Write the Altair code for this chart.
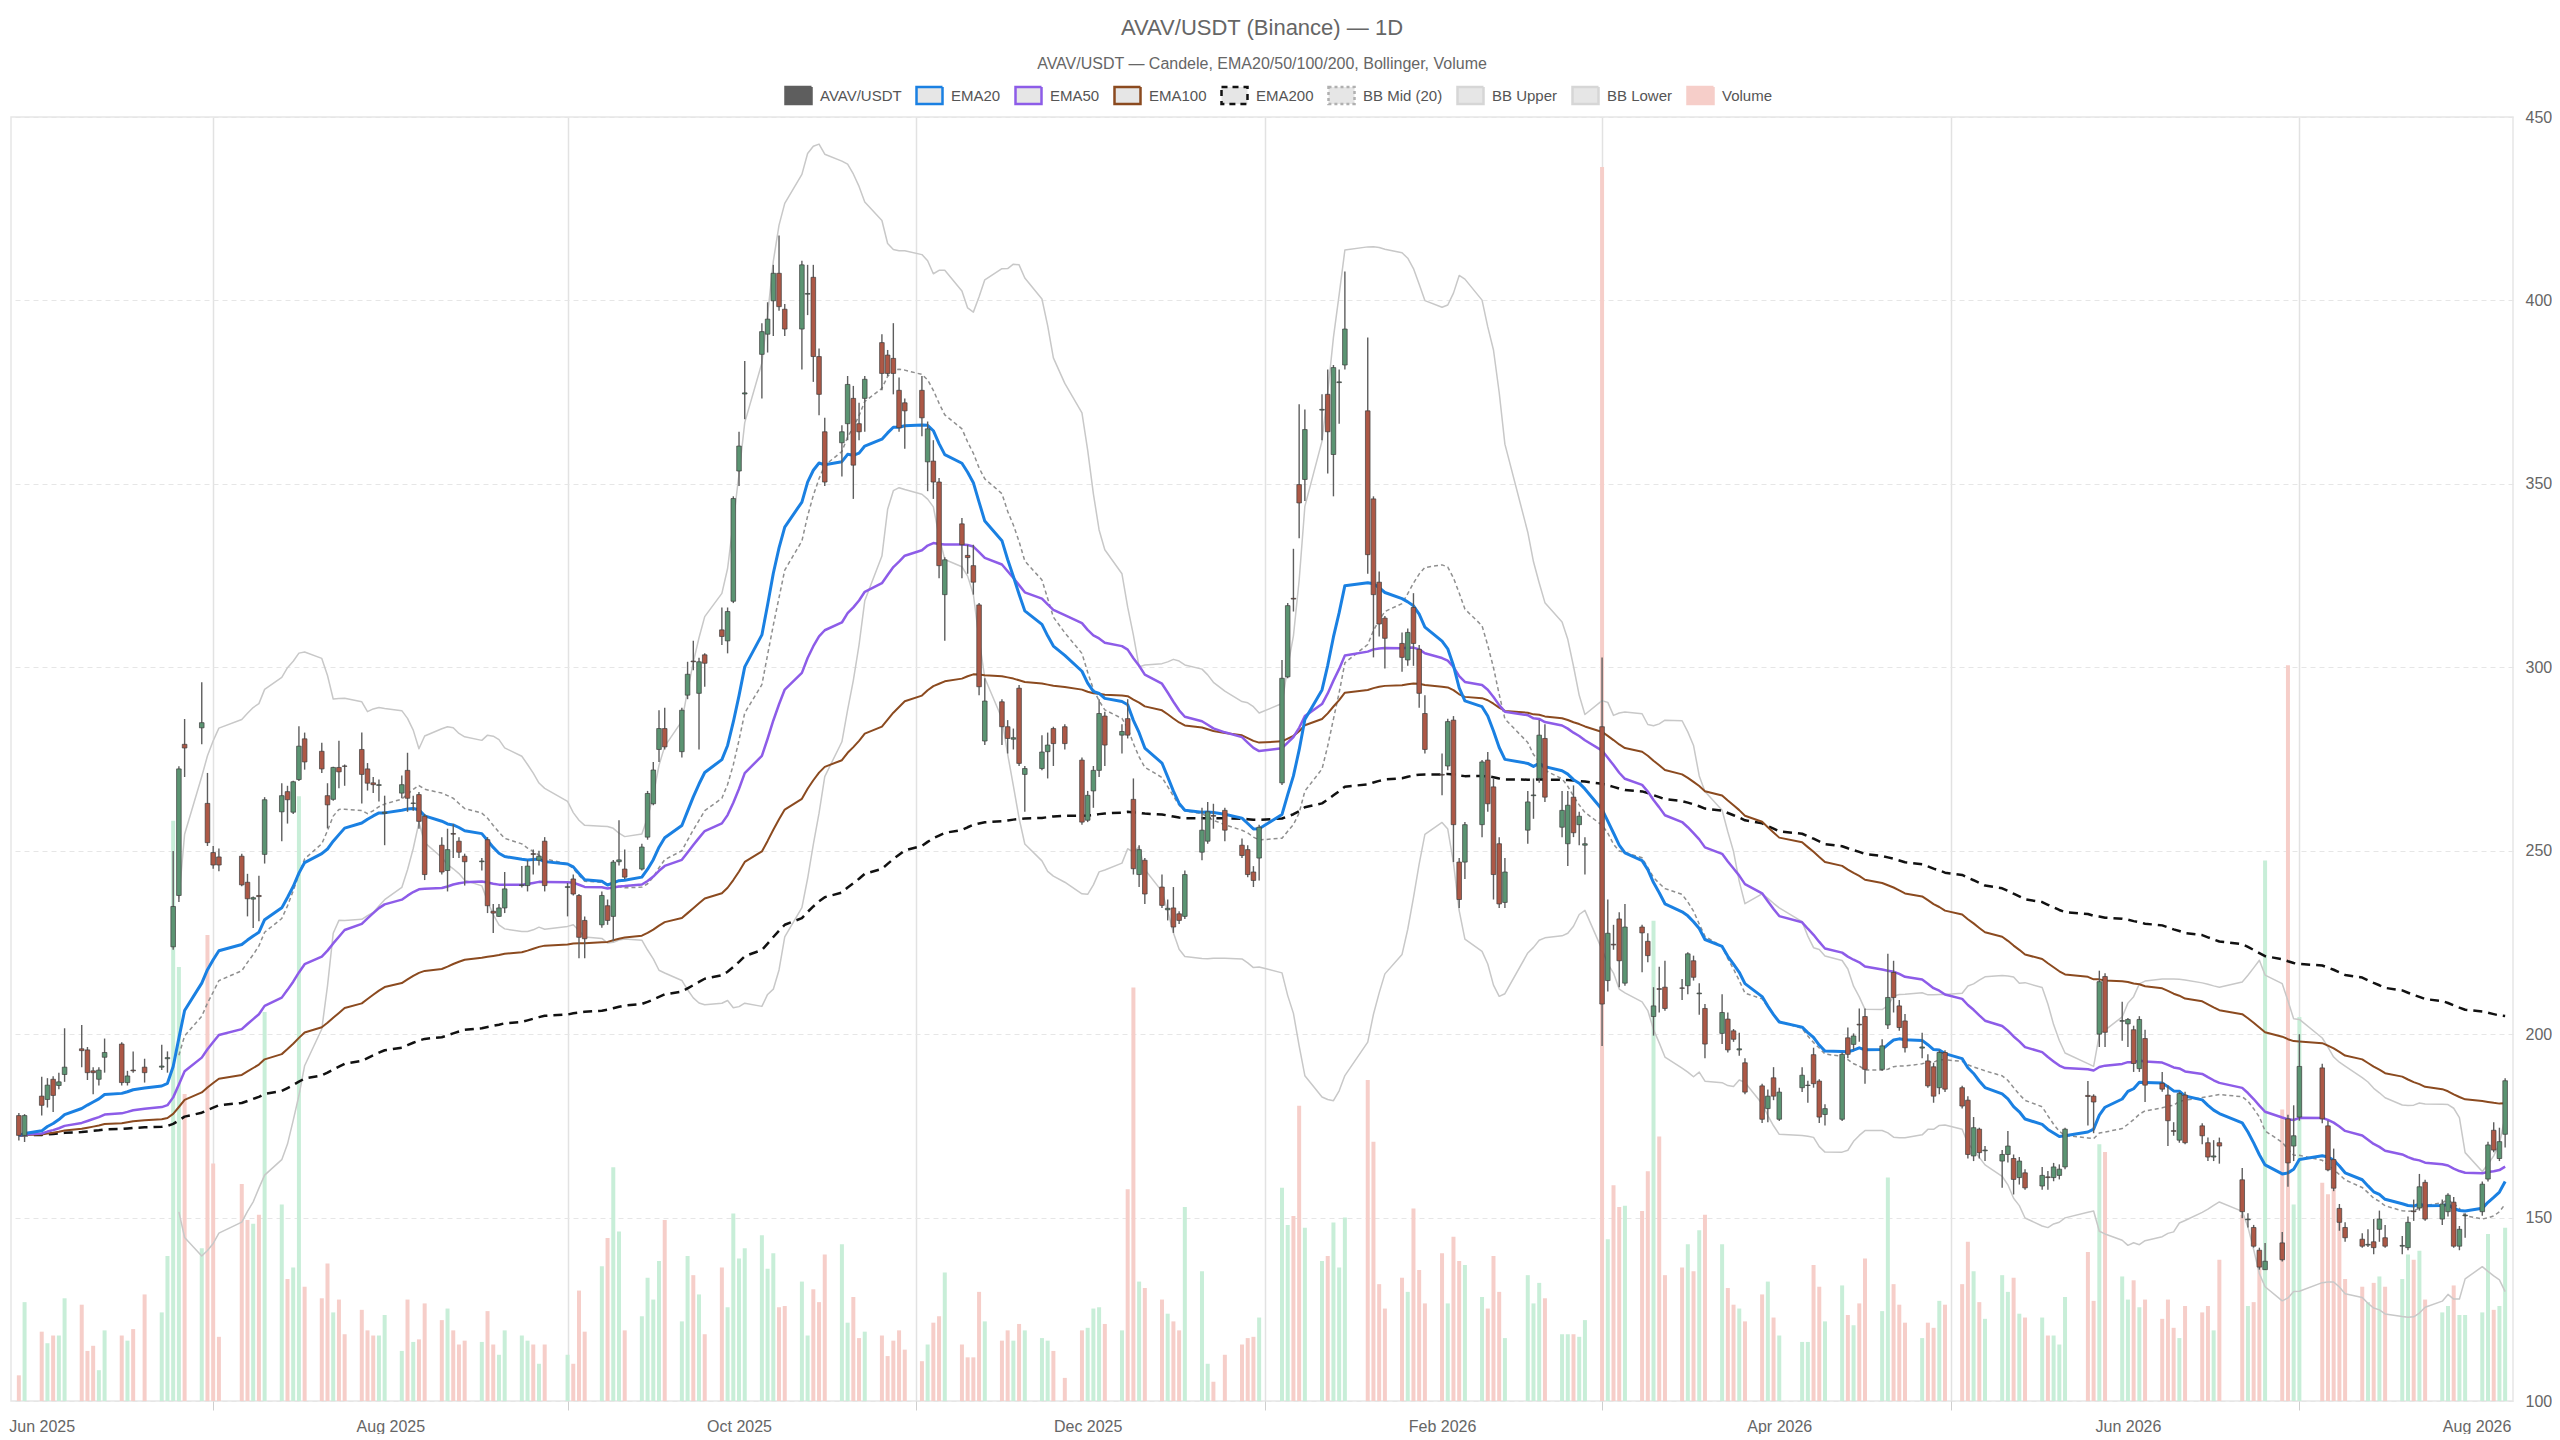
import altair as alt
import pandas as pd

START = "2025-05-28"

DAY = [
    0, 1, 4, 5, 6, 7, 8, 11, 12, 13,
    14, 15, 18, 19, 20, 22, 25, 26, 27, 28,
    29, 32, 33, 34, 35, 39, 40, 41, 42, 43,
    46, 47, 48, 49, 50, 53, 54, 55, 56, 57,
    60, 61, 62, 63, 64, 67, 68, 69, 70, 71,
    74, 75, 76, 77, 78, 81, 82, 83, 84, 85,
    88, 89, 90, 91, 92, 96, 97, 98, 99, 102,
    103, 104, 105, 106, 109, 110, 111, 112, 113, 116,
    117, 118, 119, 120, 123, 124, 125, 126, 127, 130,
    131, 132, 133, 134, 137, 138, 139, 140, 141, 144,
    145, 146, 147, 148, 151, 152, 153, 154, 155, 158,
    159, 160, 161, 162, 165, 166, 167, 168, 169, 172,
    173, 174, 175, 176, 179, 180, 181, 183, 186, 187,
    188, 189, 190, 193, 194, 195, 196, 197, 200, 201,
    202, 203, 204, 207, 208, 209, 211, 214, 215, 216,
    217, 221, 222, 223, 224, 225, 228, 229, 230, 231,
    232, 236, 237, 238, 239, 242, 243, 244, 245, 246,
    249, 250, 251, 252, 253, 256, 257, 258, 259, 260,
    264, 265, 266, 267, 270, 271, 272, 273, 274, 277,
    278, 279, 280, 281, 284, 285, 286, 287, 288, 291,
    292, 293, 294, 295, 298, 299, 300, 301, 302, 305,
    306, 307, 308, 312, 313, 314, 315, 316, 319, 320,
    321, 322, 323, 326, 327, 328, 329, 330, 333, 334,
    335, 336, 337, 340, 341, 342, 343, 344, 347, 348,
    349, 350, 351, 354, 355, 356, 357, 358, 362, 363,
    364, 365, 368, 369, 370, 371, 372, 375, 376, 377,
    378, 379, 382, 383, 384, 385, 389, 390, 391, 392,
    393, 396, 397, 398, 399, 403, 404, 405, 406, 407,
    410, 411, 412, 413, 414, 417, 418, 419, 420, 421,
    424, 425, 426, 427, 428, 431, 432, 433, 434, 435,
]

OPEN = [
    177.8, 172.4, 183.1, 182.2, 187.7, 186.0, 189.0, 196.0, 195.7, 190.0,
    187.7, 193.7, 197.3, 186.8, 190.2, 191.0, 191.0, 193.3, 223.8, 237.8,
    279.0, 283.5, 262.9, 249.5, 248.3, 248.5, 241.4, 236.8, 237.8, 249.0,
    260.6, 266.1, 260.5, 269.4, 280.5, 277.1, 265.0, 264.0, 272.7, 273.1,
    277.6, 272.3, 268.5, 267.8, 260.2, 265.7, 271.9, 262.9, 265.3, 259.4,
    251.5, 244.6, 254.7, 252.6, 248.5, 247.0, 253.0, 233.5, 232.1, 234.4,
    240.5, 240.5, 249.2, 247.4, 252.6, 240.0, 242.3, 237.8, 231.0, 229.8,
    235.0, 232.1, 247.0, 245.0, 245.0, 253.7, 262.8, 277.6, 283.3, 277.0,
    292.4, 301.7, 292.9, 303.4, 310.2, 307.2, 318.0, 353.5, 374.5, 385.3,
    390.8, 399.9, 407.4, 397.6, 392.2, 401.7, 406.3, 384.7, 364.2, 361.2,
    366.4, 373.3, 366.4, 373.3, 388.5, 385.1, 384.2, 375.5, 372.1, 375.5,
    356.0, 356.2, 350.5, 319.8, 339.1, 330.5, 327.7, 317.0, 279.9, 290.6,
    283.8, 280.4, 294.3, 270.8, 272.4, 277.0, 283.3, 283.8, 274.7, 258.3,
    266.3, 271.9, 286.7, 281.5, 286.0, 264.0, 243.5, 247.4, 240.1, 233.9,
    234.4, 232.8, 232.1, 249.6, 252.6, 259.6, 261.0, 251.5, 250.3, 244.2,
    248.0, 268.5, 297.4, 318.8, 349.8, 351.2, 370.1, 374.4, 358.0, 377.6,
    382.4, 369.9, 345.9, 323.2, 313.4, 306.5, 302.0, 316.3, 304.9, 287.4,
    270.8, 273.1, 285.6, 246.9, 246.9, 257.1, 274.7, 267.4, 251.9, 235.9,
    255.6, 265.0, 269.7, 280.6, 256.4, 251.9, 264.6, 257.1, 251.5, 283.8,
    214.6, 224.5, 231.4, 213.9, 229.2, 225.3, 204.8, 212.4, 212.8, 212.6,
    213.2, 220.0, 211.0, 207.0, 200.2, 204.1, 200.9, 195.7, 192.2, 185.9,
    179.7, 188.1, 176.8, 185.4, 186.0, 194.4, 187.2, 178.1, 176.8, 199.0,
    197.2, 202.7, 204.8, 190.4, 202.5, 216.8, 207.7, 203.6, 196.2, 192.7,
    191.1, 185.4, 195.0, 185.4, 182.0, 166.8, 174.1, 168.2, 165.4, 167.2,
    166.1, 160.9, 162.2, 158.6, 161.1, 160.9, 161.5, 163.8, 183.3, 183.1,
    200.0, 215.7, 203.5, 202.8, 201.2, 190.6, 198.8, 186.6, 183.4, 173.7,
    171.1, 183.4, 175.0, 170.4, 166.5, 170.4, 160.3, 149.4, 147.3, 141.1,
    135.8, 143.1, 176.9, 169.5, 177.4, 190.8, 175.0, 165.8, 152.5, 147.3,
    144.1, 142.5, 143.4, 146.8, 144.5, 142.2, 141.8, 151.8, 152.6, 159.6,
    149.6, 151.6, 154.2, 142.2, 150.5, 151.6, 160.5, 173.8, 166.1, 172.7,
]

HIGH = [
    178.5, 178.2, 188.4, 188.0, 188.5, 189.5, 201.6, 202.5, 196.5, 191.0,
    191.0, 198.8, 197.8, 190.0, 195.3, 193.3, 197.1, 195.3, 249.9, 273.0,
    285.9, 295.9, 271.2, 251.3, 250.6, 249.2, 243.7, 237.5, 243.2, 264.6,
    268.4, 267.7, 269.1, 283.9, 282.2, 279.4, 268.4, 272.9, 280.0, 273.5,
    282.2, 273.9, 270.1, 269.4, 265.0, 270.5, 276.7, 265.0, 266.0, 260.0,
    253.7, 256.0, 257.2, 253.7, 249.2, 248.0, 253.7, 235.5, 235.5, 244.2,
    245.8, 247.4, 250.3, 250.0, 253.7, 241.2, 243.5, 238.2, 232.1, 238.9,
    236.7, 247.5, 258.3, 250.3, 251.9, 266.3, 274.2, 288.3, 289.0, 289.0,
    301.5, 307.2, 302.6, 303.8, 316.3, 316.3, 346.6, 364.2, 383.5, 393.8,
    399.5, 409.7, 417.7, 399.0, 410.8, 409.7, 409.7, 386.9, 368.0, 366.0,
    379.4, 376.7, 372.1, 379.4, 390.8, 386.5, 393.8, 379.0, 373.3, 379.4,
    367.0, 361.9, 351.6, 330.0, 340.7, 333.4, 333.4, 317.5, 297.0, 291.3,
    285.6, 283.3, 295.2, 273.1, 281.5, 282.2, 283.8, 284.5, 275.4, 266.3,
    273.1, 291.3, 287.9, 284.5, 291.3, 269.7, 251.5, 248.0, 243.5, 236.7,
    240.1, 233.5, 244.6, 261.7, 263.3, 262.8, 261.7, 253.3, 251.5, 245.8,
    257.1, 302.0, 317.5, 332.3, 371.7, 370.3, 374.4, 381.2, 382.4, 381.2,
    407.9, 389.9, 346.6, 326.1, 314.0, 309.5, 310.6, 320.2, 306.1, 292.4,
    276.5, 286.0, 286.7, 248.0, 257.8, 274.7, 276.9, 269.7, 253.7, 248.0,
    266.3, 269.7, 285.6, 284.5, 266.3, 266.3, 267.8, 260.6, 253.7, 302.7,
    236.7, 229.8, 233.2, 235.5, 229.8, 227.5, 212.8, 218.4, 220.0, 215.0,
    222.3, 221.4, 213.9, 208.2, 210.9, 205.9, 201.4, 200.4, 193.4, 186.5,
    184.9, 191.0, 185.4, 191.0, 187.3, 196.3, 187.7, 180.9, 195.0, 201.8,
    200.2, 207.0, 207.0, 198.6, 221.9, 220.0, 209.3, 205.5, 200.4, 194.5,
    192.2, 195.6, 195.6, 185.9, 183.1, 177.4, 174.5, 169.5, 168.4, 173.6,
    167.2, 166.5, 163.2, 163.8, 162.7, 164.9, 164.5, 174.5, 187.2, 183.6,
    217.3, 216.6, 208.8, 204.4, 202.3, 204.9, 201.2, 189.7, 186.1, 176.0,
    184.3, 184.3, 175.7, 171.8, 171.1, 171.8, 163.5, 151.2, 148.0, 141.8,
    143.1, 146.1, 178.0, 180.6, 200.0, 191.9, 176.4, 168.8, 153.7, 148.7,
    145.7, 146.8, 149.6, 151.9, 148.0, 145.0, 150.3, 154.9, 161.9, 160.3,
    154.9, 156.6, 155.6, 147.7, 151.2, 159.8, 170.7, 176.0, 174.5, 188.0,
]

LOW = [
    171.0, 170.6, 177.8, 180.0, 178.8, 185.0, 187.0, 191.0, 187.5, 183.6,
    186.0, 189.5, 186.0, 186.0, 189.5, 186.8, 190.2, 189.5, 223.0, 236.0,
    270.1, 279.0, 251.3, 245.1, 244.4, 240.3, 232.1, 228.9, 230.8, 246.5,
    252.6, 257.4, 260.0, 269.0, 272.1, 271.2, 256.1, 263.6, 267.0, 267.7,
    262.9, 266.4, 265.7, 263.4, 251.5, 264.3, 260.6, 260.9, 256.0, 242.0,
    243.5, 238.9, 248.0, 248.0, 240.5, 244.6, 233.0, 227.6, 231.9, 233.0,
    240.0, 238.9, 243.5, 246.0, 238.9, 232.1, 237.8, 220.7, 220.7, 229.0,
    229.8, 225.3, 246.0, 242.3, 244.6, 253.0, 262.4, 274.2, 277.6, 275.4,
    291.3, 299.2, 277.6, 294.7, 306.1, 303.8, 317.5, 349.4, 367.6, 373.3,
    385.8, 390.3, 397.2, 390.3, 381.2, 396.0, 377.8, 368.7, 349.4, 352.0,
    361.9, 345.9, 361.9, 364.2, 375.5, 379.4, 374.4, 364.2, 359.6, 363.0,
    348.0, 345.9, 324.3, 307.2, 324.3, 325.5, 319.8, 292.4, 278.8, 278.8,
    276.5, 277.6, 273.1, 260.6, 271.9, 269.7, 273.1, 277.6, 257.1, 257.8,
    261.7, 270.1, 273.1, 276.5, 280.6, 243.5, 240.1, 235.5, 234.4, 231.0,
    227.6, 230.0, 231.4, 247.4, 251.9, 256.0, 252.6, 248.0, 242.8, 240.1,
    241.9, 267.9, 297.0, 315.2, 335.2, 345.3, 361.9, 352.8, 346.6, 366.4,
    381.2, 325.5, 302.7, 308.4, 299.7, 298.8, 300.4, 300.4, 289.0, 276.5,
    265.1, 271.9, 246.9, 234.4, 242.3, 253.7, 260.6, 236.7, 234.4, 234.4,
    251.9, 258.7, 268.5, 263.3, 253.7, 245.8, 253.7, 251.5, 243.5, 196.8,
    211.6, 223.0, 212.8, 213.2, 216.9, 219.6, 199.6, 205.9, 206.4, 209.3,
    210.9, 214.6, 205.3, 193.4, 197.3, 195.0, 197.9, 194.1, 183.6, 175.8,
    176.0, 182.0, 176.3, 184.2, 181.3, 185.4, 175.8, 175.1, 176.3, 193.4,
    195.7, 197.9, 186.5, 190.0, 201.4, 205.9, 200.9, 195.0, 193.4, 185.4,
    181.3, 183.6, 184.2, 179.7, 166.1, 165.4, 166.1, 165.4, 158.1, 165.0,
    156.3, 159.0, 157.6, 157.6, 157.6, 159.9, 160.4, 163.2, 175.1, 173.0,
    196.5, 196.5, 198.2, 196.5, 189.7, 189.7, 181.5, 184.3, 169.5, 172.3,
    170.4, 170.0, 170.0, 165.4, 165.4, 164.7, 149.8, 147.3, 141.8, 135.8,
    135.8, 138.0, 158.4, 165.4, 176.4, 175.7, 162.6, 157.2, 146.4, 143.4,
    141.8, 142.0, 140.0, 143.4, 141.8, 140.0, 141.1, 149.1, 151.9, 149.1,
    148.0, 150.3, 141.8, 141.1, 144.5, 150.5, 159.8, 167.8, 165.4, 169.1,
]

CLOSE = [
    172.4, 177.8, 180.6, 186.1, 183.3, 187.0, 191.0, 195.5, 189.5, 189.5,
    190.2, 195.0, 186.8, 188.6, 190.0, 189.5, 191.3, 193.6, 234.8, 272.3,
    278.0, 284.9, 252.2, 246.1, 246.1, 240.7, 236.9, 237.2, 237.5, 263.9,
    265.0, 263.9, 268.8, 278.5, 274.2, 272.3, 262.5, 272.7, 271.5, 273.0,
    270.8, 268.4, 268.0, 268.0, 260.5, 268.0, 264.3, 263.0, 258.0, 243.5,
    244.2, 250.3, 254.5, 249.6, 247.0, 247.2, 235.0, 233.0, 234.4, 239.6,
    240.7, 245.8, 249.0, 248.5, 240.5, 240.2, 238.2, 226.4, 226.0, 237.8,
    231.0, 246.9, 247.5, 242.8, 251.0, 265.6, 272.0, 283.3, 278.3, 288.3,
    298.1, 301.5, 301.5, 301.1, 308.4, 315.2, 346.0, 360.3, 374.8, 391.5,
    394.9, 407.4, 398.3, 392.2, 409.7, 401.9, 384.7, 374.4, 350.5, 364.2,
    377.1, 355.1, 364.2, 378.5, 380.1, 380.1, 380.1, 365.3, 369.9, 368.0,
    365.0, 350.5, 327.7, 329.3, 333.4, 329.9, 323.2, 294.7, 290.8, 283.8,
    280.6, 280.8, 273.8, 272.4, 276.9, 278.8, 279.2, 279.2, 257.8, 265.1,
    271.9, 287.4, 278.8, 282.5, 281.5, 245.1, 250.3, 238.2, 235.1, 234.3,
    229.2, 231.0, 243.5, 255.6, 260.6, 259.4, 255.6, 248.7, 243.5, 241.9,
    256.4, 297.0, 316.8, 318.6, 344.8, 364.8, 370.3, 364.2, 381.7, 377.8,
    392.2, 330.7, 319.8, 311.8, 307.9, 302.7, 309.5, 306.5, 292.9, 277.6,
    270.6, 285.2, 257.1, 236.7, 257.1, 274.2, 262.8, 243.5, 235.5, 244.2,
    263.3, 265.2, 281.5, 264.6, 261.0, 262.4, 254.9, 259.4, 251.9, 208.2,
    227.5, 224.3, 220.0, 229.2, 227.6, 221.4, 207.7, 212.2, 207.0, 212.5,
    221.9, 215.5, 211.2, 197.3, 205.9, 195.7, 198.6, 196.0, 184.2, 176.8,
    183.1, 183.1, 184.2, 188.8, 186.1, 186.5, 177.4, 179.7, 194.5, 194.5,
    199.5, 202.5, 190.4, 196.8, 210.0, 210.0, 201.8, 196.3, 196.5, 185.9,
    183.1, 195.0, 185.0, 180.4, 167.2, 174.5, 167.7, 168.4, 167.2, 169.5,
    160.4, 165.4, 158.1, 161.5, 160.9, 163.8, 163.2, 174.1, 183.0, 181.5,
    214.3, 200.5, 203.7, 204.0, 192.0, 204.0, 186.1, 185.0, 176.4, 173.5,
    183.8, 170.4, 172.3, 166.5, 166.8, 169.5, 151.6, 149.6, 142.2, 136.5,
    138.1, 138.5, 164.9, 172.3, 191.2, 176.9, 163.0, 158.0, 148.7, 144.5,
    142.2, 142.7, 141.8, 149.6, 142.2, 142.4, 148.7, 151.6, 158.4, 149.6,
    153.7, 156.1, 142.2, 146.8, 150.7, 159.1, 169.8, 168.4, 170.7, 187.3,
]

VOLUME = [
    20, 77, 54, 45, 51, 51, 80, 75, 39, 43,
    24, 55, 51, 47, 56, 83, 69, 113, 452, 338,
    239, 119, 363, 185, 50, 169, 141, 138, 145, 303,
    153, 95, 104, 471, 89, 80, 107, 69, 79, 52,
    71, 55, 51, 51, 67, 39, 79, 46, 48, 76,
    63, 72, 55, 44, 47, 46, 70, 44, 36, 55,
    51, 47, 44, 29, 44, 36, 29, 86, 54, 105,
    127, 182, 132, 55, 66, 96, 79, 109, 141, 62,
    113, 98, 83, 52, 104, 73, 146, 111, 119, 129,
    103, 115, 73, 74, 93, 51, 87, 77, 114, 122,
    61, 81, 49, 54, 51, 35, 47, 55, 40, 31,
    44, 61, 66, 100, 44, 34, 34, 85, 62, 47,
    55, 47, 60, 55, 49, 47, 39, 18, 55, 57,
    72, 73, 60, 55, 165, 322, 93, 88, 79, 68,
    62, 55, 151, 101, 29, 15, 36, 44, 49, 50,
    65, 166, 137, 144, 230, 135, 109, 113, 139, 104,
    143, 250, 202, 91, 72, 96, 85, 150, 102, 76,
    115, 76, 128, 109, 106, 81, 72, 113, 85, 49,
    98, 76, 92, 80, 52, 52, 52, 50, 63, 961,
    126, 168, 151, 152, 148, 179, 374, 206, 98, 104,
    122, 101, 133, 145, 122, 88, 75, 72, 62, 83,
    93, 65, 51, 46, 46, 106, 89, 62, 90, 67,
    59, 76, 111, 70, 174, 91, 75, 61, 49, 61,
    57, 78, 75, 91, 124, 101, 77, 64, 98, 85,
    96, 68, 65, 65, 51, 51, 44, 81, 116, 78,
    200, 194, 97, 79, 94, 73, 79, 64, 79, 57,
    49, 74, 69, 74, 55, 110, 145, 74, 77, 110,
    421, 227, 573, 153, 299, 170, 161, 165, 143, 95,
    89, 77, 92, 97, 89, 95, 114, 110, 117, 79,
    69, 74, 90, 67, 67, 69, 130, 71, 74, 135,
]

assert all(len(a) == len(DAY) for a in (OPEN, HIGH, LOW, CLOSE, VOLUME))

SERIES = ["AVAV/USDT", "EMA20", "EMA50", "EMA100", "EMA200",
          "BB Mid (20)", "BB Upper", "BB Lower", "Volume"]
MONTHS = [(2025, m) for m in range(6, 13)] + [(2026, m) for m in range(1, 9)]
PRICE_TICKS = [100, 150, 200, 250, 300, 350, 400, 450]

# ---------------- styles ----------------
FONT = "Liberation Sans"
UP, DOWN = "#5b9472", "#ad5846"
VOL_UP, VOL_DOWN = "#c8eed8", "#f6cec9"
LINE_STYLE = {
    "BB Upper": dict(color="#c8c8c8", strokeWidth=1.5),
    "BB Lower": dict(color="#c8c8c8", strokeWidth=1.5),
    "BB Mid (20)": dict(color="#8f8f8f", strokeWidth=1.5, strokeDash=[4, 3]),
    "EMA200": dict(color="#111111", strokeWidth=2.5, strokeDash=[9, 6]),
    "EMA100": dict(color="#8b4a1f", strokeWidth=2),
    "EMA50": dict(color="#8d5ce8", strokeWidth=2.5),
    "EMA20": dict(color="#1a80e2", strokeWidth=3),
}
LEG_FILL = ["#5e5e5e", "#e6e6e6", "#e6e6e6", "#e6e6e6", "#e6e6e6",
            "#e6e6e6", "#e6e6e6", "#e6e6e6", "#f6cec9"]
LEG_STROKE = ["#5e5e5e", "#1a80e2", "#8d5ce8", "#8b4a1f", "#111111",
              "#b0b0b0", "#d6d6d6", "#d6d6d6", "#f6cec9"]
LEG_DASH = [[1, 0], [1, 0], [1, 0], [1, 0], [6, 5], [3, 3], [1, 0], [1, 0], [1, 0]]
RECT = "M-1,-0.65H1V0.65H-1Z"

# ---------------- data & indicators ----------------
cdf = pd.DataFrame({"d": DAY, "open": OPEN, "high": HIGH, "low": LOW,
                    "close": CLOSE, "volume": VOLUME})
cdf["date"] = (pd.Timestamp(START) + pd.to_timedelta(cdf["d"], unit="D")).dt.strftime("%Y-%m-%d")

ind = pd.DataFrame({"date": cdf["date"]})
for n in (20, 50, 100, 200):
    ind[f"EMA{n}"] = cdf["close"].ewm(span=n, adjust=False).mean()
mid = cdf["close"].rolling(20).mean()
sd = cdf["close"].rolling(20).std(ddof=0)
ind["BB Mid (20)"] = mid
ind["BB Upper"] = mid + 2 * sd
ind["BB Lower"] = mid - 2 * sd
ldf = ind.melt(id_vars=["date"], var_name="series", value_name="value").dropna()

cdf = cdf[["date", "open", "high", "low", "close", "volume"]]

# ---------------- scales & axes ----------------
ODD = "utcmonth(datum.value) % 2 == 0"
xscale = alt.Scale(type="utc", domain=[
    alt.DateTime(year=2025, month=5, date=27, hours=12, utc=True),
    alt.DateTime(year=2026, month=8, date=6, hours=12, utc=True)])
xaxis = alt.Axis(
    values=[alt.DateTime(year=y, month=m, date=1, utc=True) for y, m in MONTHS],
    labelExpr="utcmonth(datum.value) % 2 == 1 ? utcFormat(datum.value, '%b %Y') : ''",
    title=None, domain=False,
    grid=True, gridColor="#e2e2e2", gridWidth=1.5, gridDash=[],
    gridOpacity={"condition": {"test": ODD, "value": 1}, "value": 0},
    ticks=True, tickSize=9, tickColor="#cfcfcf",
    tickOpacity={"condition": {"test": ODD, "value": 1}, "value": 0},
    labelFontSize=16, labelColor="#666666", labelPadding=8,
    labelOverlap=False, labelFlush=False)
yscale = alt.Scale(domain=[100, 450], nice=False, zero=False)
yaxis = alt.Axis(values=PRICE_TICKS, orient="right", title=None, domain=False,
                 ticks=False, grid=True, gridColor="#e6e6e6", gridDash=[5, 4],
                 labelFontSize=16, labelColor="#666666", labelPadding=12)

X = alt.X("date:T", scale=xscale, axis=xaxis)
UPTEST = "datum.close >= datum.open"

vol = alt.Chart(cdf).mark_bar(size=4).encode(
    x=X,
    y=alt.Y("volume:Q", scale=alt.Scale(domain=[0, 1000]), axis=None),
    color=alt.condition(UPTEST, alt.value(VOL_UP), alt.value(VOL_DOWN)))

line_layers = []
for name in ["BB Upper", "BB Lower", "BB Mid (20)", "EMA200", "EMA100", "EMA50", "EMA20"]:
    line_layers.append(
        alt.Chart(ldf).transform_filter(alt.datum.series == name)
        .mark_line(strokeJoin="round", **LINE_STYLE[name])
        .encode(x=X, y=alt.Y("value:Q", scale=yscale, axis=yaxis)))

wicks = alt.Chart(cdf).mark_rule(color="#5e5e5e", strokeWidth=1.4).encode(
    x=X, y=alt.Y("low:Q", scale=yscale, axis=yaxis), y2="high:Q")
bodies = alt.Chart(cdf).mark_bar(size=4.6, stroke="#3d3d3d", strokeWidth=0.7).encode(
    x=X, y=alt.Y("open:Q", scale=yscale, axis=yaxis), y2="close:Q",
    color=alt.condition(UPTEST, alt.value(UP), alt.value(DOWN)))

LEG = alt.Legend(title=None, orient="none", legendX=773, legendY=-36,
                 direction="horizontal", symbolType=RECT, symbolSize=676,
                 symbolStrokeWidth=2.5, symbolOpacity=1, labelFontSize=15,
                 labelColor="#555555", labelOffset=7, columnPadding=9,
                 labelFont=FONT)
legend_layer = alt.Chart(pd.DataFrame({"series": SERIES})).mark_point(
    shape=RECT, filled=True, size=0, strokeWidth=2.5, opacity=1).encode(
    fill=alt.Fill("series:N", scale=alt.Scale(domain=SERIES, range=LEG_FILL), legend=LEG),
    stroke=alt.Stroke("series:N", scale=alt.Scale(domain=SERIES, range=LEG_STROKE), legend=LEG),
    strokeDash=alt.StrokeDash("series:N", scale=alt.Scale(domain=SERIES, range=LEG_DASH), legend=LEG))

price = alt.layer(*line_layers, wicks, bodies, legend_layer)

chart = (
    alt.layer(vol, price)
    .resolve_scale(y="independent")
    .properties(
        width=2502, height=1284,
        padding={"left": 0, "top": 9, "right": 0, "bottom": 0},
        title=alt.TitleParams(
            text="AVAV/USDT (Binance) — 1D",
            subtitle="AVAV/USDT — Candele, EMA20/50/100/200, Bollinger, Volume",
            fontSize=22, fontWeight="normal", color="#666666", font=FONT,
            subtitleFontSize=16, subtitleColor="#666666", subtitleFont=FONT,
            subtitlePadding=16, offset=8, anchor="middle"))
    .configure(font=FONT)
    .configure_view(stroke="#e6e6e6", strokeWidth=1.5)
)

chart.save("out.html", embed_options={"renderer": "svg", "actions": False})
